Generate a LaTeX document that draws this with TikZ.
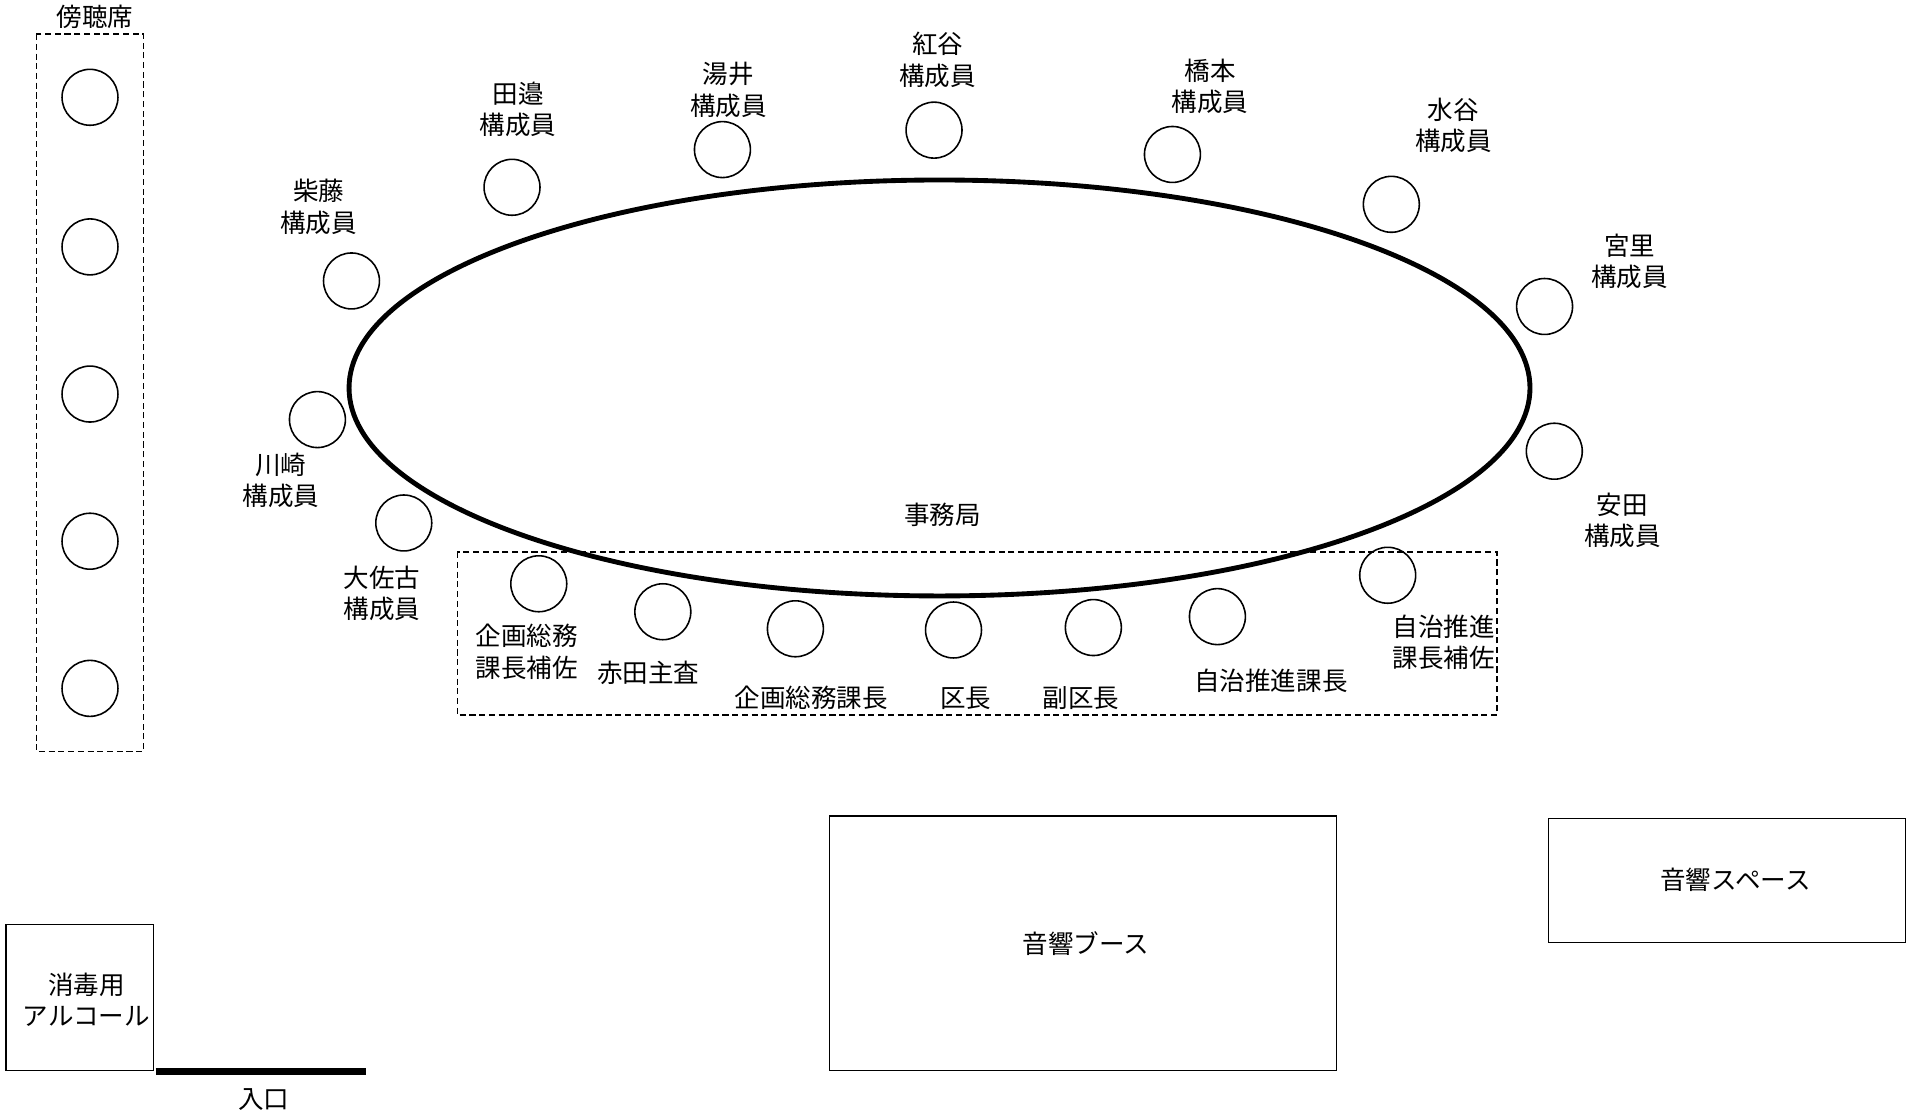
\documentclass[tikz,border=0pt]{standalone}
\usepackage{fontspec}
\setmainfont{Noto Sans CJK JP}
\usetikzlibrary{shapes.geometric}
\begin{document}
\begin{tikzpicture}[x=1pt,y=-1pt,
  seat/.style={draw, circle, line width=1.3pt, minimum size=46pt, inner sep=0pt},
  lbl/.style={align=center, inner sep=0pt, font=\fontsize{21}{26}\selectfont},
  box/.style={draw, line width=1.1pt, align=center, inner sep=0pt, font=\fontsize{21}{26}\selectfont},
  zone/.style={draw, line width=1.1pt, dash pattern=on 5pt off 3pt}]
\useasboundingbox (0,0) rectangle (1568,917.6);
% 傍聴席
\draw[zone] (30,28) rectangle (118,618);
\node[lbl] (gallery) at (78,14) {傍聴席};
\foreach \y [count=\i] in {80,203,324,445,566} {
    \node[seat] (g\i) at (74,\y) {};
}
% 机
\node[draw, ellipse, line width=4pt, minimum width=971pt, minimum height=342pt] (table) at (772.5,319) {};
\node[lbl] (office) at (775,423) {事務局};
% 構成員
\node[seat] (shibato) at (289,231) {};
\node[lbl] at (262,170) {柴藤\\構成員};
\node[seat] (tanabe) at (421,154) {};
\node[lbl] at (426,90) {田邉\\構成員};
\node[seat] (yui) at (594,123) {};
\node[lbl] at (599,74) {湯井\\構成員};
\node[seat] (beniya) at (768,107) {};
\node[lbl] at (771,49) {紅谷\\構成員};
\node[seat] (hashimoto) at (964,127) {};
\node[lbl] at (995,71) {橋本\\構成員};
\node[seat] (mizutani) at (1144,168) {};
\node[lbl] at (1195,103) {水谷\\構成員};
\node[seat] (miyazato) at (1270,252) {};
\node[lbl] at (1340,215) {宮里\\構成員};
\node[seat] (yasuda) at (1278,371) {};
\node[lbl] at (1334,428) {安田\\構成員};
\node[seat] (kawasaki) at (261,345) {};
\node[lbl] at (231,395) {川崎\\構成員};
\node[seat] (osako) at (332,430) {};
\node[lbl] at (314,488) {大佐古\\構成員};
% 区役所側
\draw[zone] (376,454) rectangle (1231,588);
\node[seat] (kikakuho) at (443,480) {};
\node[lbl] at (433,536) {企画総務\\課長補佐};
\node[seat] (akata) at (545,503) {};
\node[lbl] at (533,553) {赤田主査};
\node[seat] (kikaku) at (654,517) {};
\node[lbl] at (667,574) {企画総務課長};
\node[seat] (kucho) at (784,518) {};
\node[lbl] at (794,574) {区長};
\node[seat] (fuku) at (899,516) {};
\node[lbl] at (889,574) {副区長};
\node[seat] (jichi) at (1001,507) {};
\node[lbl] at (1045,560) {自治推進課長};
\node[seat] (jichiho) at (1141,473) {};
\node[lbl] at (1187,528) {自治推進\\課長補佐};
% 音響
\node[box, minimum width=417pt, minimum height=209pt] (booth) at (890.5,775.5) {};
\node[lbl] at (893,776) {音響ブース};
\node[box, minimum width=294pt, minimum height=102pt] (sound) at (1420,724) {};
\node[lbl] at (1427,723) {音響スペース};
% 入口
\node[box, minimum width=121pt, minimum height=120pt] (alcohol) at (65.5,820) {};
\node[lbl] at (71,822) {消毒用\\アルコール};
\coordinate (door1) at (128,881);
\coordinate (door2) at (301,881);
\draw[line width=5pt] (door1) -- (door2);
\node[lbl] (entrance) at (217,904) {入口};
\end{tikzpicture}
\end{document}
